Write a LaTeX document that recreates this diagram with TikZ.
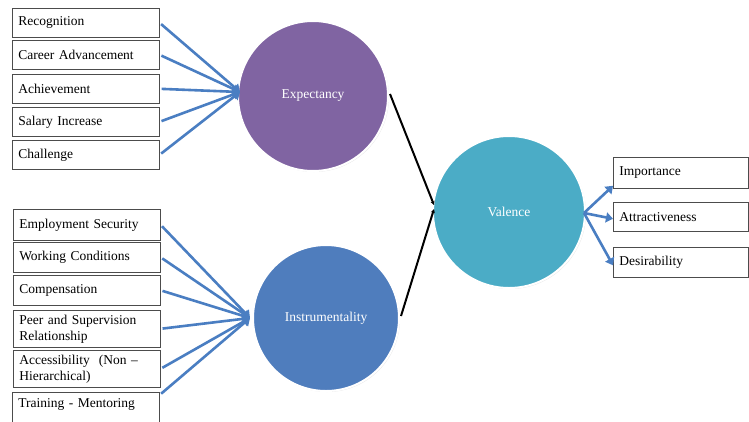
\documentclass[tikz,border=0pt]{standalone}
\usepackage{fontspec}
\setmainfont{Liberation Serif}
\usetikzlibrary{arrows.meta,shadows}
\definecolor{expc}{HTML}{8064A2}
\definecolor{instc}{HTML}{4F7DBD}
\definecolor{valc}{HTML}{4BACC6}
\definecolor{arrc}{HTML}{4A7EC2}
\tikzset{
  factor/.style={draw=black!70, line width=0.6pt, anchor=north west, minimum width=147pt,
     minimum height=29pt, text width=135pt, inner xsep=6pt, align=left, font=\fontsize{13.5}{16}\selectfont},
  bigcirc/.style={circle, draw=white, line width=2pt, minimum size=148pt, text=white,
     font=\fontsize{13.5}{16}\selectfont, drop shadow={opacity=0.2, shadow xshift=1pt, shadow yshift=-1pt}},
  barrow/.style={draw=arrc, line width=2.6pt, -{Triangle[width=10pt,length=7pt]}, shorten <=2pt},
  karrow/.style={draw=black, line width=2pt, -{Stealth[length=4pt,width=4pt]}}
}
\begin{document}
\begin{tikzpicture}[x=1pt,y=-1pt]
\useasboundingbox[fill=white] (0,0) rectangle (749,421);
% left top boxes
\node[factor] (rec) at (12,8) {Recognition};
\node[factor] (car) at (12,40) {Career Advancement};
\node[factor] (ach) at (12,74) {Achievement};
\node[factor] (sal) at (12,107) {Salary Increase};
\node[factor] (cha) at (12,140) {Challenge};
% left bottom boxes
\node[factor, minimum height=31pt] (emp) at (13,209) {Employment Security};
\node[factor, minimum height=30pt] (wor) at (13,242) {Working Conditions};
\node[factor, minimum height=30pt] (com) at (13,275) {Compensation};
\node[factor, minimum height=37pt] (pee) at (13,310) {Peer and Supervision\\Relationship};
\node[factor, minimum height=37pt] (acc) at (13,350) {Accessibility\ \ (Non --\\Hierarchical)};
\node[factor, minimum height=36pt, text depth=14pt] (tra) at (12,392) {Training - Mentoring};
% circles
\node[bigcirc, fill=expc, minimum size=150pt] (exp) at (313,96) {Expectancy};
\node[bigcirc, fill=instc, minimum size=146pt] (ins) at (326,318) {Instrumentality};
\node[bigcirc, fill=valc, minimum size=152pt] (val) at (509,212) {Valence};
% right boxes
\node[factor, minimum width=135pt, minimum height=31pt, text width=123pt] (imp) at (613,157) {Importance};
\node[factor, minimum width=135pt, minimum height=29pt, text width=123pt] (att) at (613,202) {Attractiveness};
\node[factor, minimum width=135pt, minimum height=30pt, text width=123pt] (des) at (613,247) {Desirability};
% convergence points
\coordinate (etip) at (240,92);
\coordinate (itip) at (250,318);
\coordinate (vtipa) at (434,205);
\coordinate (vtipb) at (434,209);
\coordinate (vout) at (584,213);
% blue arrows
\foreach \b in {rec,car,ach,sal,cha} \draw[barrow] (\b.east) -- (etip);
\foreach \b in {emp,wor,com,pee,acc} \draw[barrow] (\b.east) -- (itip);
\draw[barrow] ([yshift=-3pt]tra.north east) -- (itip);
% black lines
\draw[karrow] ([xshift=1pt,yshift=2pt]exp.east) -- (vtipa);
\draw[karrow] ([xshift=1pt,yshift=2pt]ins.east) -- (vtipb);
% right arrows
\draw[barrow, shorten <=0pt] (vout) -- ([yshift=-13pt]imp.west);
\draw[barrow, shorten <=0pt] (vout) -- ([yshift=-2pt]att.west);
\draw[barrow, shorten <=0pt] (vout) -- ([yshift=-3pt]des.west);
\end{tikzpicture}
\end{document}
